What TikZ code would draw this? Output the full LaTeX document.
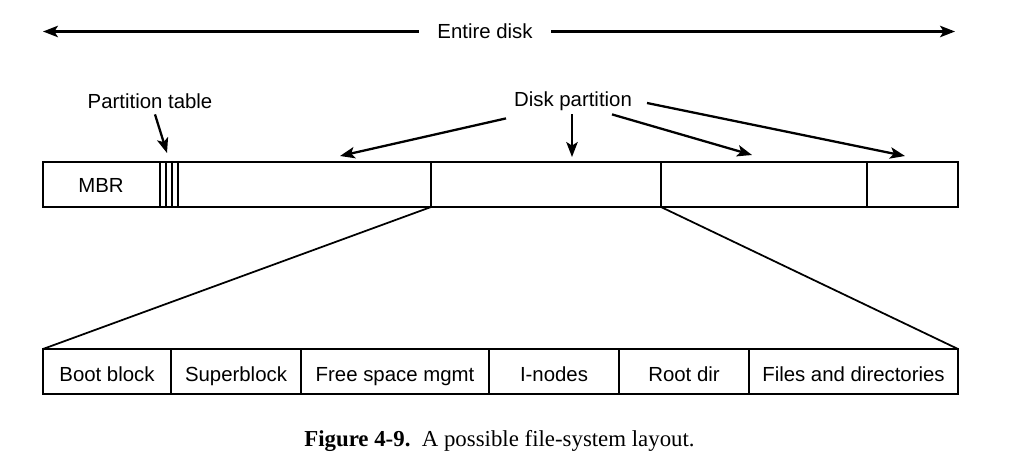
\documentclass[tikz,border=0pt]{standalone}
\usepackage{fontspec}
\setmainfont{Liberation Serif}
\setsansfont{Liberation Sans}
\usetikzlibrary{arrows.meta, positioning, calc}

\begin{document}
\begin{tikzpicture}[x=0.02cm,y=-0.02cm,
		lbl/.style={font=\sffamily\fontsize{11.6}{14}\selectfont, inner sep=1pt, text height=8.3pt, text depth=0pt},
		arr/.style={-{Stealth[length=8.5pt,width=6.5pt,inset=2pt]}, line width=1.3pt},
		box/.style={line width=1.5pt},
		sep/.style={line width=1pt}]
			\useasboundingbox (0,0) rectangle (1034,466);
			% whole disk
			\node[lbl, inner xsep=0.37cm] (disk) at (485,31.5) {Entire disk};
			\coordinate (diskL) at (43,31.5);
			\coordinate (diskR) at (955,31.5);
			\draw[arr] (disk) -- (diskL);
			\draw[arr] (disk) -- (diskR);
			% partitions
			\draw[sep] (160,162) -- (160,207);
			\draw[sep] (166,162) -- (166,207);
			\draw[sep] (172,162) -- (172,207);
			\draw[sep] (178,162) -- (178,207);
			\draw[sep] (431,162) -- (431,207);
			\draw[sep] (661,162) -- (661,207);
			\draw[sep] (867,162) -- (867,207);
			\draw[box] (43,162) rectangle (958,207);
			\node[lbl] (mbr) at (101,185) {MBR};
			\node[lbl] (ptab) at (150,101) {Partition table};
			\coordinate (tabs) at (167,153);
			\draw[arr] ([shift={(5,4)}]ptab.south) -- (tabs);
			\node[lbl] (part) at (573,99) {Disk partition};
			\coordinate (partA) at (340,156);
			\coordinate (partB) at (572,157);
			\coordinate (partC) at (752,155);
			\coordinate (partD) at (905,156);
			\draw[arr] ([shift={(-6,10)}]part.south west) -- (partA);
			\draw[arr] ([shift={(-1,6)}]part.south) -- (partB);
			\draw[arr] ([shift={(-22,6)}]part.south east) -- (partC);
			\draw[arr] ([shift={(13,4)}]part.east) -- (partD);
			% file system of one partition
			\draw[sep] (171,349) -- (171,394);
			\draw[sep] (301,349) -- (301,394);
			\draw[sep] (489,349) -- (489,394);
			\draw[sep] (619,349) -- (619,394);
			\draw[sep] (749,349) -- (749,394);
			\draw[box] (43,349) rectangle (958,394);
			\draw[sep] (431,207) -- (43,349);
			\draw[sep] (661,207) -- (958,349);
			\node[lbl] (boot) at (107,374) {Boot block};
			\node[lbl] (super) at (236,374) {Superblock};
			\node[lbl] (free) at (395,374) {Free space mgmt};
			\node[lbl] (inodes) at (554,374) {I-nodes};
			\node[lbl] (root) at (684,374) {Root dir};
			\node[lbl] (files) at (853.5,374) {Files and directories};
			\node[font=\rmfamily\fontsize{13}{15}\selectfont] (cap) at (499.5,441) {\textbf{Figure 4-9.}\ \ A possible file-system layout.};
\end{tikzpicture}
\end{document}
